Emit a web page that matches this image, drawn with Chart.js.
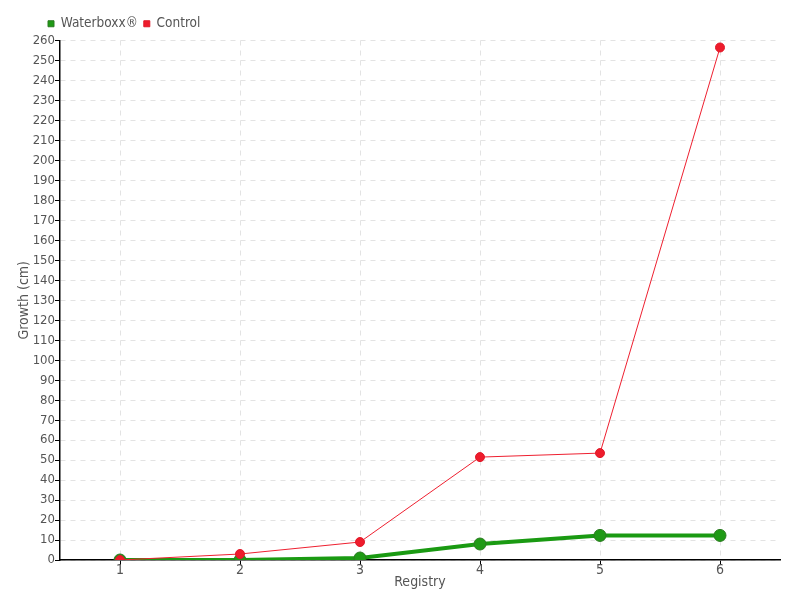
<!DOCTYPE html>
<html><head><meta charset="utf-8">
<script src="https://cdn.jsdelivr.net/npm/chart.js@4/dist/chart.umd.min.js"></script>
<style>html,body{margin:0;padding:0;background:#fff}#wrap{width:800px;height:600px}</style>
</head><body><div id="wrap"><canvas id="c" width="800" height="600"></canvas></div>
<script>
const categories = ['1','2','3','4','5','6'];
const waterboxx = [0, 0, 1, 8, 12.3, 12.3];
const control = [0, 3, 9, 51.5, 53.5, 256.5];
const seriesNames = ['Waterboxx®', 'Control'];
const yTitle = 'Growth (cm)';
const xTitle = 'Registry';

const FONT = '"Liberation Sans Narrow", "DejaVu Sans Condensed", "Roboto", sans-serif';
Chart.defaults.font.family = FONT;
Chart.defaults.font.size = 13;
Chart.defaults.color = '#555';

const legendShift = {
  id: 'legendShift',
  afterLayout(chart) {
    const l = chart.legend;
    if (!l) return;
    const dx = 42;
    l.left += dx; l.right += dx;
    if (l.legendHitBoxes) l.legendHitBoxes.forEach(h => { h.left += dx; });
  }
};

new Chart(document.getElementById('c'), {
  type: 'line',
  data: {
    labels: categories,
    datasets: [
      {label: seriesNames[0], data: waterboxx, borderColor: '#1a9a12', backgroundColor: '#1a9a12',
       borderWidth: 4, pointRadius: 6, pointBorderColor: '#2a7a20', pointBorderWidth: 1,
       pointBackgroundColor: '#1f9a15', tension: 0, order: 2},
      {label: seriesNames[1], data: control, borderColor: '#ee2030', backgroundColor: '#ee2030',
       borderWidth: 1, pointRadius: 4.5, pointBorderColor: '#e01828', pointBorderWidth: 1,
       pointBackgroundColor: '#ee1c2c', tension: 0, order: 1}
    ]
  },
  plugins: [legendShift],
  options: {
    responsive: false, animation: false,
    layout: {padding: {left: 0, right: 20, top: 11, bottom: 0}},
    plugins: {
      legend: {position: 'top', align: 'start',
        labels: {usePointStyle: true, pointStyle: 'rect', boxWidth: 6, boxHeight: 6, padding: 6,
          color: '#555', font: {size: 13.5}, sort: (a, b) => a.datasetIndex - b.datasetIndex},
      },
      tooltip: {enabled: false}
    },
    scales: {
      x: {
        offset: true,
        border: {color: '#000', width: 1.5, dash: [5,5]},
        grid: {color: '#e3e3e3', tickColor: '#000', tickBorderDash: [], tickLength: 5, offset: false},
        ticks: {color: '#555', padding: -3, maxRotation: 0, font: {size: 14}},
        title: {display: true, text: xTitle, color: '#555', padding: {top: 0, bottom: 9}, font: {size: 14}},
        afterFit: s => { s.height = 40; }
      },
      y: {
        min: 0, max: 260,
        border: {color: '#000', width: 1.5, dash: [5,5]},
        grid: {color: '#e3e3e3', tickColor: '#000', tickBorderDash: [], tickLength: 5},
        ticks: {stepSize: 10, color: '#555', padding: 0},
        title: {display: true, text: yTitle, color: '#555', padding: {top: 16, bottom: 0}, font: {size: 14}},
        afterFit: s => { s.width = 60; }
      }
    }
  }
});
</script></body></html>
